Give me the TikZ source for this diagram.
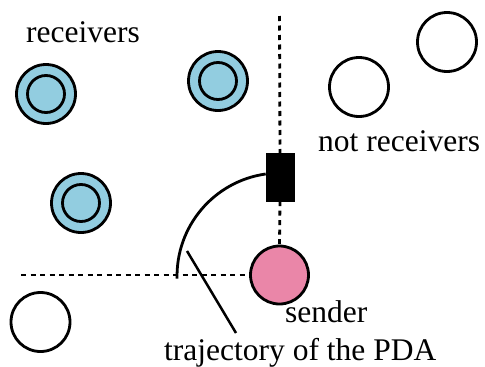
\documentclass[tikz,border=0pt]{standalone}
\usepackage{fontspec}
\setmainfont{Liberation Serif}
\definecolor{rcvblue}{RGB}{146,205,224}
\definecolor{sndpink}{RGB}{234,134,168}
\tikzset{
  ring/.style={circle, draw, line width=2.8pt, minimum size=59pt, inner sep=0pt},
  receiver/.style={ring, fill=rcvblue,
    path picture={\draw[line width=2.8pt] (path picture bounding box.center) circle (18.5pt);}},
  other/.style={ring, fill=white},
  sendernode/.style={ring, minimum size=58pt, fill=sndpink},
  pda/.style={draw, fill=black, minimum width=28pt, minimum height=48pt, inner sep=0pt},
  axis/.style={line width=2.8pt, dash pattern=on 5pt off 4.5pt},
  track/.style={line width=2.8pt},
  pointer/.style={line width=2.5pt},
  caption/.style={anchor=base west, inner sep=0pt, font=\fontsize{31.5}{35}\selectfont}
}
\begin{document}
\begin{tikzpicture}[x=1pt, y=-1pt]
  \useasboundingbox (0,0) rectangle (485,367);

  % dashed axes through the sender
  \coordinate (vtop) at (279.5,16);
  \coordinate (hleft) at (21,275);
  \node[sendernode] (snd) at (279.5,275) {};
  \node[pda] (pda) at (280,177) {};
  \draw[axis] (vtop) -- (pda.north);
  \draw[axis] (pda.south) -- (snd.north);
  \draw[axis] (hleft) -- (snd.west);

  % receivers
  \node[receiver] (r1) at (46,94) {};
  \node[receiver] (r2) at (218,81) {};
  \node[receiver] (r3) at (81,203) {};

  % nodes outside the range
  \node[other] (n1) at (359,87) {};
  \node[other] (n2) at (447,42) {};
  \node[other] (n3) at (40.5,322) {};

  % PDA trajectory: arc around the sender
  \coordinate (arcstart) at (265.7,174);
  \draw[track] (arcstart) arc[start angle=-98, end angle=-181.5, radius=103];

  % labels
  \node[caption] (lrcv) at (26,42) {receivers};
  \node[caption] (lnot) at (318,151) {not receivers};
  \node[caption] (lsnd) at (285,322) {sender};
  \node[caption] (ltraj) at (164,360) {trajectory of the PDA};

  \coordinate (ptr) at (187,251);
  \coordinate (ptrend) at (236,333);
  \draw[pointer] (ptr) -- (ptrend);
\end{tikzpicture}
\end{document}
